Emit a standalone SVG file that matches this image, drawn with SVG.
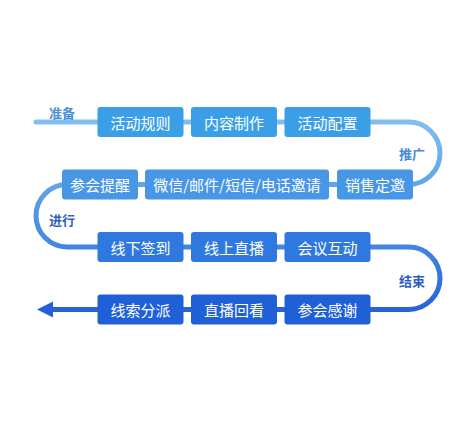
<svg xmlns="http://www.w3.org/2000/svg" width="474" height="427" viewBox="0 0 474 427">
<defs>
<linearGradient id="lineGrad" gradientUnits="userSpaceOnUse" x1="0" y1="115" x2="0" y2="315">
<stop offset="0" stop-color="#86c0ef"/>
<stop offset="0.35" stop-color="#62a4e9"/>
<stop offset="0.7" stop-color="#3f80e0"/>
<stop offset="1" stop-color="#2560d6"/>
</linearGradient>
</defs>
<style>
.box rect{rx:3px;ry:3px}
.r1 rect{fill:#3b9fe8}
.r2 rect{fill:#4896e6}
.r3 rect{fill:#2e78df}
.r4 rect{fill:#1f60d6}
.box text{font-family:"Noto Sans CJK SC","Noto Sans",sans-serif;font-size:15px;fill:#ffffff;text-anchor:middle;dominant-baseline:central}
.stage{font-family:"Noto Sans CJK SC","Noto Sans",sans-serif;font-size:13px;font-weight:bold;text-anchor:middle;dominant-baseline:central}
</style>
<rect width="474" height="427" fill="#ffffff"/>
<g id="connectors">
<path d="M36,122 H408.75 A31.25,31.25 0 0 1 408.75,184.5 H67.25 A31.25,31.25 0 0 0 67.25,247 H408.75 A31.25,31.25 0 0 1 408.75,309.5 H50" fill="none" stroke="url(#lineGrad)" stroke-width="5" stroke-linecap="round"/>
<polygon points="37,309.5 53,301.5 53,317.5" fill="#2560d6"/>
</g>
<g id="stage-labels">
<text class="stage" x="62" y="112" fill="#4a90d8">准备</text>
<text class="stage" x="412" y="153" fill="#4a8bd6">推广</text>
<text class="stage" x="62" y="219" fill="#2f62bd">进行</text>
<text class="stage" x="412" y="280" fill="#2d5cc0">结束</text>
</g>
<g id="n1" class="box r1"><rect x="97.5" y="107" width="86" height="30"/><text x="140.5" y="122">活动规则</text></g>
<g id="n2" class="box r1"><rect x="191" y="107" width="86" height="30"/><text x="234" y="122">内容制作</text></g>
<g id="n3" class="box r1"><rect x="284.5" y="107" width="86" height="30"/><text x="327.5" y="122">活动配置</text></g>
<g id="n4" class="box r2"><rect x="337" y="169.5" width="76" height="30"/><text x="375" y="184.5">销售定邀</text></g>
<g id="n5" class="box r2"><rect x="145" y="169.5" width="184" height="30"/><text x="237" y="184.5">微信/邮件/短信/电话邀请</text></g>
<g id="n6" class="box r2"><rect x="62" y="169.5" width="76" height="30"/><text x="100" y="184.5">参会提醒</text></g>
<g id="n7" class="box r3"><rect x="97.5" y="232" width="86" height="30"/><text x="140.5" y="247">线下签到</text></g>
<g id="n8" class="box r3"><rect x="191" y="232" width="86" height="30"/><text x="234" y="247">线上直播</text></g>
<g id="n9" class="box r3"><rect x="284.5" y="232" width="86" height="30"/><text x="327.5" y="247">会议互动</text></g>
<g id="n10" class="box r4"><rect x="284.5" y="294.5" width="86" height="30"/><text x="327.5" y="309.5">参会感谢</text></g>
<g id="n11" class="box r4"><rect x="191" y="294.5" width="86" height="30"/><text x="234" y="309.5">直播回看</text></g>
<g id="n12" class="box r4"><rect x="97.5" y="294.5" width="86" height="30"/><text x="140.5" y="309.5">线索分派</text></g>
</svg>
